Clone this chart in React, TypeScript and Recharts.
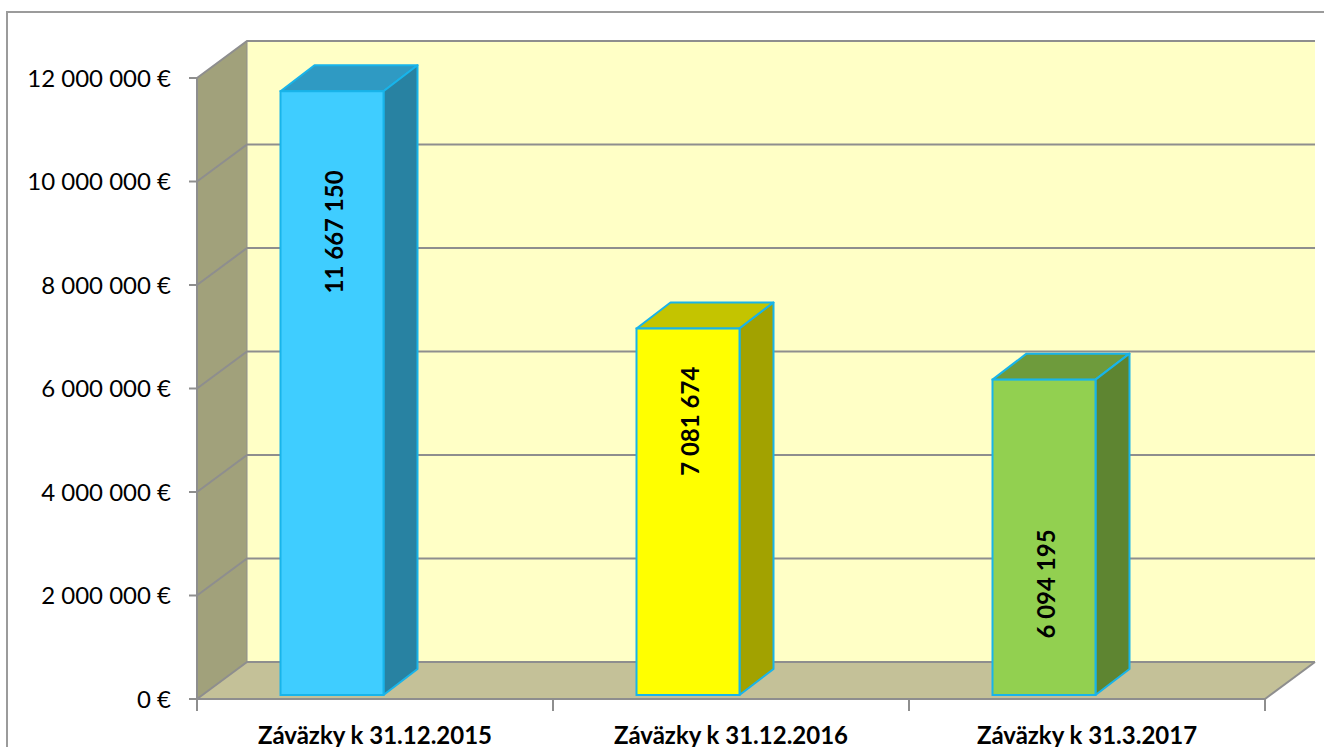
import React from 'react';
import { BarChart, Bar, XAxis, YAxis, ReferenceArea } from 'recharts';

const categories = ['Záväzky k 31.12.2015', 'Záväzky k 31.12.2016', 'Záväzky k 31.3.2017'];
const values = [11667150, 7081674, 6094195];
const yTicks = [0, 2000000, 4000000, 6000000, 8000000, 10000000, 12000000];

const data = categories.map((name, i) => ({ name, value: values[i] }));

const FACES = [
  { front: '#3FCDFF', top: '#2F9AC3', side: '#2882A2' },
  { front: '#FFFF00', top: '#C4C400', side: '#A2A200' },
  { front: '#92D050', top: '#6E9B3C', side: '#5E8531' },
];
const LABEL_FRAC = [0.767, 0.747, 0.352];

const DEPTH_X = 50;
const DEPTH_Y = -37;
const GRID = '#8E8E8E';
const FONT = 'Lato';

const fmt = (v: number) => v.toString().replace(/\B(?=(\d{3})+(?!\d))/g, ' ') + ' €';

const Walls = (props: any) => {
  const { x, y, width, height } = props;
  const bottom = y + height;
  const right = x + width;
  const dx = DEPTH_X;
  const dy = DEPTH_Y;
  const max = yTicks[yTicks.length - 1];
  const n = categories.length;
  return (
    <g>
      <polygon
        points={`${x},${y} ${x + dx},${y + dy} ${x + dx},${bottom + dy} ${x},${bottom}`}
        fill="#A1A17B"
      />
      <rect x={x + dx} y={y + dy} width={width} height={height} fill="#FFFFC6" />
      <polygon
        points={`${x},${bottom} ${right},${bottom} ${right + dx},${bottom + dy} ${x + dx},${bottom + dy}`}
        fill="#C4C198"
      />
      <line x1={x + dx} y1={y + dy} x2={x + dx} y2={bottom + dy} stroke={GRID} strokeWidth={1} />
      <line x1={right} y1={bottom} x2={right + dx} y2={bottom + dy} stroke={GRID} strokeWidth={2} />
      {yTicks.map((t) => {
        const yy = bottom - (t / max) * height;
        return (
          <path
            key={t}
            d={`M${x},${yy} L${x + dx},${yy + dy} L${right + dx},${yy + dy}`}
            fill="none"
            stroke={GRID}
            strokeWidth={2}
          />
        );
      })}
      {Array.from({ length: n + 1 }).map((_, i) => {
        const xx = x + (i * width) / n;
        return <line key={i} x1={xx} y1={bottom} x2={xx} y2={bottom + 12} stroke={GRID} strokeWidth={2} />;
      })}
    </g>
  );
};

const Bar3D = (props: any) => {
  const { x, y, width, height, index } = props;
  const c = FACES[index % FACES.length];
  const fl = x - 43.5;
  const fw = width;
  const ft = y - 4;
  const fb = y + height - 4;
  const sx = 34;
  const sy = -26;
  const edge = '#18B4EA';
  const lx = fl + fw / 2 + 2;
  const ly = fb - LABEL_FRAC[index % LABEL_FRAC.length] * (fb - ft);
  const val = props.payload ? props.payload.value : props.value;
  return (
    <g>
      <polygon
        points={`${fl},${ft} ${fl + sx},${ft + sy} ${fl + fw + sx},${ft + sy} ${fl + fw},${ft}`}
        fill={c.top}
        stroke={edge}
        strokeWidth={2}
        strokeLinejoin="round"
      />
      <polygon
        points={`${fl + fw},${ft} ${fl + fw + sx},${ft + sy} ${fl + fw + sx},${fb + sy} ${fl + fw},${fb}`}
        fill={c.side}
        stroke={edge}
        strokeWidth={2}
        strokeLinejoin="round"
      />
      <rect x={fl} y={ft} width={fw} height={fb - ft} fill={c.front} stroke={edge} strokeWidth={2} />
      <text
        x={lx}
        y={ly}
        transform={`rotate(-90 ${lx} ${ly})`}
        textAnchor="middle"
        dominantBaseline="central"
        fontFamily={FONT}
        fontWeight="bold"
        fontSize={24}
        fill="#000"
      >
        {fmt(val).replace(' €', '')}
      </text>
    </g>
  );
};

export default function App() {
  return (
    <div style={{ position: 'absolute', left: 0, top: 0, width: 1324, height: 747, overflow: 'hidden', background: '#fff' }}>
      <div
        style={{
          position: 'absolute',
          left: 6,
          top: 11,
          width: 1400,
          height: 800,
          borderLeft: '2px solid #9B9B9B',
          borderTop: '2px solid #9B9B9B',
        }}
      />
      <div style={{ position: 'absolute', left: 0, top: 0 }}>
        <BarChart
          width={1324}
          height={747}
          data={data}
          margin={{ top: 78, right: 59, bottom: 0, left: 0 }}
          barSize={103}
        >
          <ReferenceArea y1={0} y2={12000000} ifOverflow="visible" shape={(p: any) => <Walls {...p} />} />
          <Bar dataKey="value" isAnimationActive={false} shape={(p: any) => <Bar3D {...p} />} />
          <XAxis
            dataKey="name"
            height={48}
            interval={0}
            tickLine={false}
            tickSize={0}
            tickMargin={28}
            axisLine={{ stroke: GRID, strokeWidth: 2 }}
            tick={{ fontFamily: FONT, fontWeight: 'bold', fontSize: 24, fill: '#000' }}
          />
          <YAxis
            width={197}
            domain={[0, 12000000]}
            ticks={yTicks}
            interval={0}
            tickFormatter={fmt}
            tickSize={8}
            tickMargin={18}
            axisLine={{ stroke: GRID, strokeWidth: 2 }}
            tickLine={{ stroke: GRID, strokeWidth: 2 }}
            tick={{ fontFamily: FONT, fontSize: 24, fill: '#000' }}
          />
        </BarChart>
      </div>
    </div>
  );
}
